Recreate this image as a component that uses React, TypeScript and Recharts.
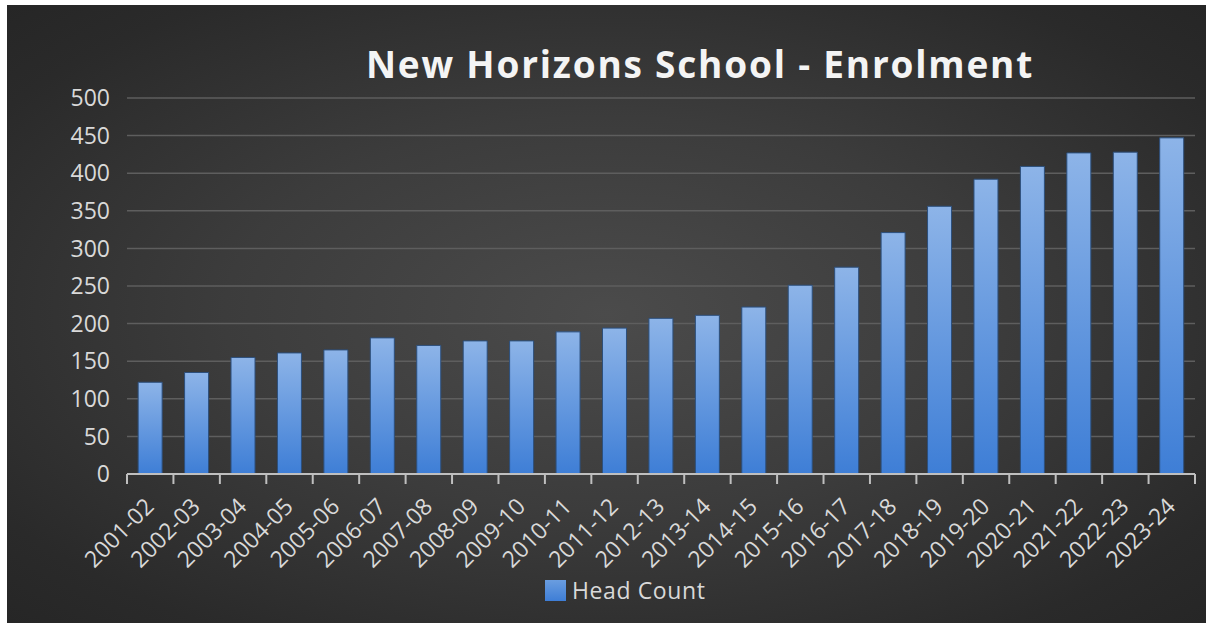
import React from "react";
import { BarChart, Bar, XAxis, YAxis, CartesianGrid } from "recharts";

const categories = [
  "2001-02", "2002-03", "2003-04", "2004-05", "2005-06", "2006-07", "2007-08", "2008-09",
  "2009-10", "2010-11", "2011-12", "2012-13", "2013-14", "2014-15", "2015-16", "2016-17",
  "2017-18", "2018-19", "2019-20", "2020-21", "2021-22", "2022-23", "2023-24",
];
const headCount = [
  122, 135, 155, 161, 165, 181, 171, 177, 177, 189, 194, 207, 211, 222, 251, 275,
  321, 356, 392, 409, 427, 428, 447,
];
const yTicks = [0, 50, 100, 150, 200, 250, 300, 350, 400, 450, 500];
const seriesName = "Head Count";
const title = "New Horizons School - Enrolment";

const data = categories.map((c, i) => ({ year: c, value: headCount[i] }));

const CHART_W = 1199;
const CHART_H = 618;
const MARGIN = { top: 93, right: 11, bottom: 44, left: 20 };
const Y_W = 100;
const PLOT_W = CHART_W - MARGIN.left - MARGIN.right - Y_W;
const BAND = PLOT_W / categories.length;
const FONT = "'Open Sans', sans-serif";

const XTick = (props: any) => {
  const { x, y, payload, index } = props;
  const left = x - BAND / 2;
  const tx = x + 5;
  const ty = y + 34;
  return (
    <g>
      <line x1={left} y1={y} x2={left} y2={y + 10} stroke="#bfbfbf" strokeWidth={2} />
      {index === categories.length - 1 && (
        <line x1={x + BAND / 2} y1={y} x2={x + BAND / 2} y2={y + 10} stroke="#bfbfbf" strokeWidth={2} />
      )}
      <text
        x={tx}
        y={ty}
        transform={`rotate(-45, ${tx}, ${ty})`}
        textAnchor="end"
        fill="#d9d9d9"
        fontSize={23}
        fontFamily={FONT}
      >
        {payload.value}
      </text>
    </g>
  );
};

export default function App() {
  return (
    <div style={{ position: "absolute", left: 0, top: 0, width: 1206, height: 623, background: "#ffffff", overflow: "hidden" }}>
      <div
        style={{
          position: "absolute",
          left: 7,
          top: 5,
          width: CHART_W,
          height: CHART_H,
          background: "radial-gradient(ellipse at 50% 50%, #4b4b4b 0%, #3c3c3c 45%, #2a2a2a 85%, #262626 100%)",
        }}
      >
        <div
          style={{
            position: "absolute",
            left: 0,
            width: CHART_W,
            top: 34,
            textAlign: "center",
            paddingLeft: 187,
            boxSizing: "border-box",
            color: "#f4f4f4",
            fontFamily: FONT,
            fontWeight: 700,
            fontSize: 37,
            letterSpacing: 1.8,
            lineHeight: "50px",
            whiteSpace: "nowrap",
          }}
        >
          {title}
        </div>
        <BarChart width={CHART_W} height={CHART_H} data={data} margin={MARGIN} barCategoryGap="24%">
          <defs>
            <linearGradient id="barGrad" x1="0" y1="0" x2="0" y2="1">
              <stop offset="0%" stopColor="#8db4e8" />
              <stop offset="100%" stopColor="#3e7ed6" />
            </linearGradient>
          </defs>
          <CartesianGrid vertical={false} stroke="#5e5e5e" strokeWidth={1.5} />
          <XAxis
            dataKey="year"
            interval={0}
            height={105}
            tickLine={false}
            tickSize={0}
            tickMargin={0}
            axisLine={{ stroke: "#bfbfbf", strokeWidth: 2 }}
            tick={<XTick />}
          />
          <YAxis
            width={Y_W}
            domain={[0, 500]}
            ticks={yTicks}
            interval={0}
            axisLine={false}
            tickLine={false}
            tickSize={0}
            tickMargin={17}
            tick={{ fill: "#d9d9d9", fontSize: 23, fontFamily: FONT }}
          />
          <Bar dataKey="value" name={seriesName} fill="url(#barGrad)" stroke="#2c4f7c" strokeWidth={1} isAnimationActive={false} />
        </BarChart>
        <div
          style={{
            position: "absolute",
            left: 538,
            top: 569,
            display: "flex",
            alignItems: "center",
            fontFamily: FONT,
            fontSize: 23,
            letterSpacing: 0.6,
            color: "#d9d9d9",
          }}
        >
          <div style={{ width: 21, height: 21, background: "linear-gradient(#6a9de0, #3e7ed6)", marginRight: 6 }} />
          <span>{seriesName}</span>
        </div>
      </div>
    </div>
  );
}
